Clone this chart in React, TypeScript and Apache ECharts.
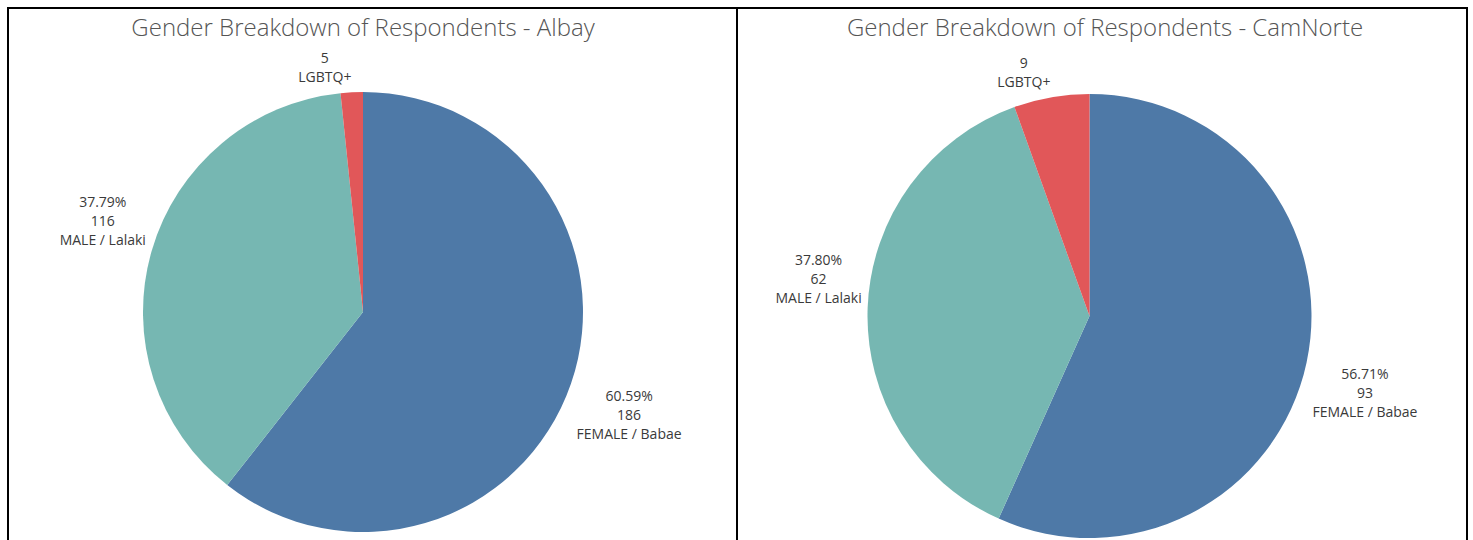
import React, { useEffect, useRef } from "react";
import * as echarts from "echarts";

const categories = ["FEMALE / Babae", "MALE / Lalaki", "LGBTQ+"];
const showPercent = [true, true, false];
const albayValues = [186, 116, 5];
const camNorteValues = [93, 62, 9];
const titles = [
  "Gender Breakdown of Respondents - Albay",
  "Gender Breakdown of Respondents - CamNorte",
];
const colors = ["#4e79a7", "#76b7b2", "#e15759"];

const W = 1473;
const H = 540;

type PieCfg = { cx: number; cy: number; r: number; values: number[] };

const pies: PieCfg[] = [
  { cx: 363, cy: 312, r: 220, values: albayValues },
  { cx: 1089.5, cy: 316, r: 222, values: camNorteValues },
];

function midDir(values: number[], i: number) {
  const total = values.reduce((a, b) => a + b, 0);
  let cum = 0;
  for (let k = 0; k < i; k++) cum += values[k];
  const a = ((cum + values[i] / 2) / total) * Math.PI * 2;
  return { ux: Math.sin(a), uy: -Math.cos(a) };
}

export default function App() {
  const ref = useRef<HTMLDivElement>(null);
  useEffect(() => {
    document.body.style.margin = "0";
    if (!ref.current) return;
    const chart = echarts.init(ref.current, undefined, { renderer: "svg" });
    const gap = 6;
    const series = pies.map((p) => {
      const total = p.values.reduce((a, b) => a + b, 0);
      return {
        type: "pie",
        center: [p.cx, p.cy],
        radius: p.r,
        startAngle: 90,
        clockwise: true,
        silent: true,
        itemStyle: { borderWidth: 0 },
        label: {
          show: true,
          position: "outside",
          fontFamily: "Open Sans",
          fontSize: 14,
          lineHeight: 19,
          color: "#3a3a3a",
          formatter: (params: any) =>
            showPercent[params.dataIndex]
              ? `${((params.value / total) * 100).toFixed(2)}%\n${params.value}\n${params.name}`
              : `${params.value}\n${params.name}`,
        },
        labelLine: { show: false },
        labelLayout: (params: any) => {
          const { ux, uy } = midDir(p.values, params.dataIndex);
          const w = params.labelRect.width;
          const h = params.labelRect.height;
          const px = p.cx + ux * (p.r + gap);
          const py = p.cy + uy * (p.r + gap);
          return {
            x: px + Math.sign(ux) * (w / 2),
            y: py + Math.sign(uy) * (h / 2),
            align: "center",
            verticalAlign: "middle",
          };
        },
        data: categories.map((name, i) => ({
          name,
          value: p.values[i],
          itemStyle: { color: colors[i] },
        })),
      };
    });
    const titleStyle = {
      fontFamily: "Open Sans",
      fontWeight: 300,
      fontSize: 24,
      color: "#555555",
    };
    chart.setOption({
      animation: false,
      backgroundColor: "#ffffff",
      title: [
        { text: titles[0], left: 358, top: 9, textAlign: "center", textStyle: titleStyle },
        { text: titles[1], left: 1100, top: 9, textAlign: "center", textStyle: titleStyle },
      ],
      graphic: [
        {
          type: "rect",
          shape: { x: 8, y: 8, width: 729, height: 560 },
          style: { fill: "none", stroke: "#000", lineWidth: 2 },
          silent: true,
        },
        {
          type: "rect",
          shape: { x: 737, y: 8, width: 730, height: 560 },
          style: { fill: "none", stroke: "#000", lineWidth: 2 },
          silent: true,
        },
      ],
      series,
    });
    return () => chart.dispose();
  }, []);
  return <div ref={ref} style={{ width: W, height: H }} />;
}
